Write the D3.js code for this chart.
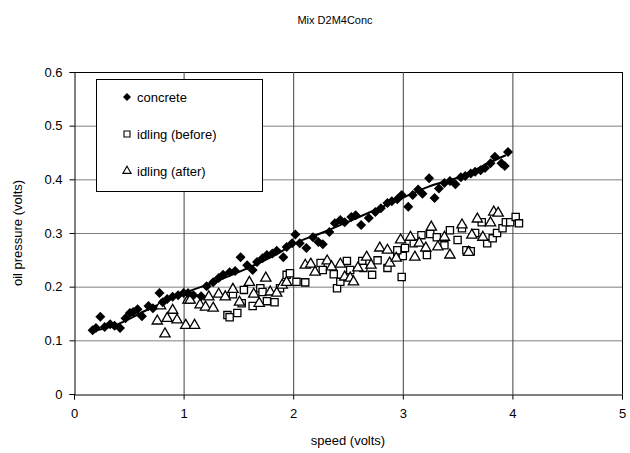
<!DOCTYPE html>
<html><head><meta charset="utf-8">
<script src="https://cdn.jsdelivr.net/npm/d3@7"></script>
<style>body{margin:0;background:#fff}text{font-family:"Liberation Sans",Arial,sans-serif}</style>
</head><body><svg id="c" width="630" height="453"></svg>
<script>
const title = "Mix D2M4Conc";
const xLabel = "speed (volts)";
const yLabel = "oil pressure (volts)";
const xTicks = [0,1,2,3,4,5];
const yTicks = [0,0.1,0.2,0.3,0.4,0.5,0.6];
const seriesNames = ["concrete","idling (before)","idling (after)"];

const concrete = [
[0.17,0.119],[0.20,0.123],[0.24,0.144],[0.28,0.125],[0.33,0.130],[0.37,0.127],[0.42,0.123],[0.47,0.141],
[0.51,0.151],[0.54,0.153],[0.58,0.158],[0.62,0.145],[0.68,0.164],[0.72,0.160],[0.78,0.188],[0.81,0.171],
[0.85,0.177],[0.90,0.181],[0.95,0.184],[1.00,0.188],[1.04,0.188],[1.09,0.184],[1.16,0.182],[1.21,0.201],
[1.27,0.208],[1.32,0.216],[1.36,0.222],[1.42,0.227],[1.47,0.229],[1.52,0.255],[1.58,0.240],[1.63,0.231],
[1.67,0.246],[1.72,0.253],[1.76,0.259],[1.81,0.262],[1.85,0.267],[1.91,0.255],[1.94,0.274],[1.99,0.281],
[2.02,0.297],[2.06,0.281],[2.12,0.272],[2.18,0.292],[2.23,0.283],[2.27,0.279],[2.33,0.302],[2.38,0.318],
[2.43,0.324],[2.47,0.320],[2.53,0.330],[2.57,0.333],[2.62,0.315],[2.69,0.328],[2.75,0.339],[2.80,0.346],
[2.86,0.356],[2.90,0.359],[2.95,0.363],[2.99,0.371],[3.05,0.349],[3.09,0.371],[3.14,0.381],[3.18,0.373],
[3.24,0.402],[3.29,0.365],[3.33,0.383],[3.38,0.393],[3.43,0.397],[3.48,0.391],[3.53,0.404],[3.57,0.406],
[3.62,0.411],[3.66,0.414],[3.71,0.417],[3.75,0.421],[3.80,0.430],[3.84,0.442],[3.90,0.430],[3.93,0.425],[3.96,0.451]
];
const trend = [
[0.15,0.116],[0.36,0.127],[0.66,0.156],[0.97,0.185],[1.27,0.208],[1.58,0.234],[1.88,0.264],[2.0,0.279],
[2.27,0.301],[2.58,0.328],[2.95,0.361],[3.23,0.386],[3.54,0.406],[3.84,0.436],[3.94,0.445]
];
const idlingBefore = [
[1.40,0.147],[1.42,0.143],[1.49,0.151],[1.45,0.186],[1.53,0.169],[1.55,0.194],[1.63,0.164],[1.70,0.197],
[1.72,0.190],[1.76,0.173],[1.83,0.171],[1.88,0.197],[1.94,0.222],[1.97,0.225],[2.03,0.209],[2.11,0.208],
[2.25,0.244],[2.27,0.231],[2.37,0.223],[2.40,0.197],[2.43,0.209],[2.49,0.248],[2.52,0.231],[2.63,0.248],
[2.64,0.235],[2.72,0.222],[2.77,0.249],[2.86,0.235],[2.95,0.263],[2.99,0.218],[3.00,0.257],[2.95,0.268],
[3.02,0.272],[3.10,0.281],[3.17,0.296],[3.22,0.259],[3.25,0.298],[3.31,0.292],[3.38,0.277],[3.43,0.305],
[3.50,0.287],[3.54,0.309],[3.58,0.268],[3.62,0.266],[3.66,0.300],[3.72,0.320],[3.77,0.281],[3.82,0.290],
[3.86,0.300],[3.91,0.309],[3.94,0.320],[3.98,0.320],[4.03,0.330],[4.06,0.318]
];
const idlingAfter = [
[0.76,0.136],[0.79,0.164],[0.83,0.112],[0.85,0.141],[0.90,0.156],[0.94,0.138],[1.02,0.128],[1.04,0.175],
[1.10,0.128],[1.06,0.175],[1.15,0.166],[1.20,0.162],[1.23,0.181],[1.27,0.160],[1.32,0.186],[1.38,0.181],
[1.45,0.195],[1.51,0.171],[1.60,0.208],[1.64,0.186],[1.69,0.169],[1.75,0.216],[1.79,0.190],[1.85,0.188],
[1.90,0.203],[1.94,0.208],[2.11,0.240],[2.16,0.242],[2.20,0.227],[2.31,0.248],[2.35,0.237],[2.43,0.242],
[2.47,0.218],[2.52,0.216],[2.55,0.209],[2.59,0.235],[2.67,0.255],[2.71,0.240],[2.79,0.272],[2.86,0.268],
[2.88,0.244],[2.94,0.253],[2.98,0.287],[3.07,0.292],[3.11,0.255],[3.15,0.281],[3.21,0.272],[3.26,0.311],
[3.32,0.274],[3.38,0.292],[3.43,0.259],[3.54,0.315],[3.60,0.264],[3.63,0.296],[3.68,0.326],[3.73,0.292],
[3.80,0.319],[3.83,0.339],[3.87,0.337]
];

const svg = d3.select("#c");
const L=74,R=622,T=72,B=394;
const x = d3.scaleLinear().domain([0,5]).range([L,R]);
const y = d3.scaleLinear().domain([0,0.6]).range([B,T]);

// gridlines
svg.append("g").selectAll("line").data(yTicks.filter(d=>d>0)).join("line")
  .attr("x1",L).attr("x2",R).attr("y1",d=>y(d)+0.5).attr("y2",d=>y(d)+0.5)
  .attr("stroke",d=>d===0.6?"#000":"#808080").attr("stroke-width",1);
svg.append("g").selectAll("line").data(xTicks.filter(d=>d>0)).join("line")
  .attr("x1",d=>x(d)+0.5).attr("x2",d=>x(d)+0.5).attr("y1",T).attr("y2",B)
  .attr("stroke",d=>d===5?"#000":"#404040").attr("stroke-width",1);

// axes
const xAxis = d3.axisBottom(x).tickValues(xTicks).tickFormat(d3.format("d")).tickSizeOuter(0).tickSize(5).tickPadding(9);
const yAxis = d3.axisLeft(y).tickValues(yTicks).tickFormat(d=>d===0?"0":d3.format(".1f")(d)).tickSizeOuter(0).tickSize(5).tickPadding(7);
const gx = svg.append("g").attr("transform",`translate(0,${B+0.5})`).call(xAxis);
const gy = svg.append("g").attr("transform",`translate(${L+0.5},0)`).call(yAxis);
[gx,gy].forEach(g=>{g.selectAll("text").attr("font-size",13).attr("fill","#000").attr("font-family","Liberation Sans, Arial, sans-serif");
  g.selectAll("line,path").attr("stroke","#000");});

// trend line
svg.append("path").datum(trend).attr("fill","none").attr("stroke","#000").attr("stroke-width",2)
  .attr("d",d3.line().x(d=>x(d[0])).y(d=>y(d[1])).curve(d3.curveMonotoneX));

const sq = d3.symbol().type(d3.symbolSquare).size(52);
const tri = d3.symbol().type(d3.symbolTriangle).size(46);
const dia = d3.symbol().type(d3.symbolSquare).size(50);

svg.append("g").selectAll("path").data(idlingBefore).join("path").attr("d",sq)
  .attr("transform",d=>`translate(${x(d[0])},${y(d[1])})`).attr("fill","#fff").attr("stroke","#000").attr("stroke-width",1.3);
svg.append("g").selectAll("path").data(idlingAfter).join("path").attr("d",tri)
  .attr("transform",d=>`translate(${x(d[0])},${y(d[1])})`).attr("fill","#fff").attr("stroke","#000").attr("stroke-width",1.3);
svg.append("g").selectAll("path").data(concrete).join("path").attr("d",dia)
  .attr("transform",d=>`translate(${x(d[0])},${y(d[1])}) rotate(45)`).attr("fill","#000");

// legend
const lg = svg.append("g");
lg.append("rect").attr("x",96.5).attr("y",79.5).attr("width",166).attr("height",112).attr("fill","#fff").attr("stroke","#000");
seriesNames.forEach((n,i)=>{
  const yy = 97+i*37;
  const p = lg.append("path").attr("transform",`translate(127,${yy})`);
  if(i===0) p.attr("d",d3.symbol().type(d3.symbolSquare).size(32)).attr("fill","#000").attr("transform",`translate(127,${yy}) rotate(45)`);
  else if(i===1) p.attr("d",d3.symbol().type(d3.symbolSquare).size(36)).attr("fill","#fff").attr("stroke","#000").attr("stroke-width",1.1);
  else p.attr("d",d3.symbol().type(d3.symbolTriangle).size(30)).attr("fill","#fff").attr("stroke","#000").attr("stroke-width",1.1);
  lg.append("text").attr("x",137).attr("y",yy+5).attr("font-size",13).text(n);
});

// titles
svg.append("text").attr("x",335).attr("y",24).attr("text-anchor","middle").attr("font-size",11).text(title);
svg.append("text").attr("x",348).attr("y",445).attr("text-anchor","middle").attr("font-size",13).text(xLabel);
svg.append("text").attr("transform","translate(22,233) rotate(-90)").attr("text-anchor","middle").attr("font-size",13).text(yLabel);
</script></body></html>
